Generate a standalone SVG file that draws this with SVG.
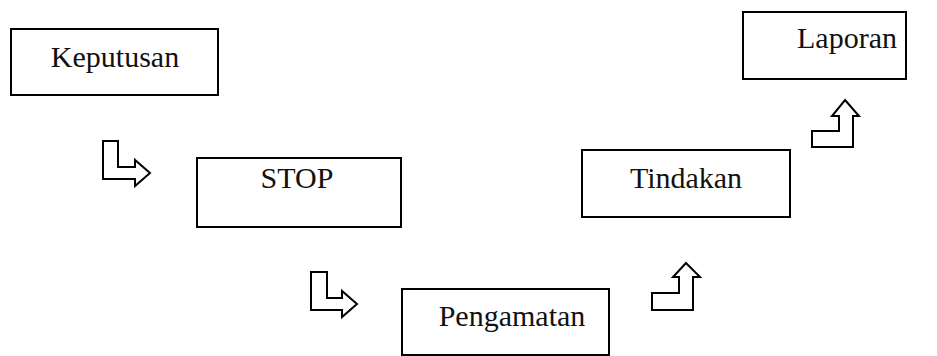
<svg xmlns="http://www.w3.org/2000/svg" width="937" height="356" viewBox="0 0 937 356">
<style>
.box{fill:#fff;stroke:#000;stroke-width:2}
.lbl{font-size:30px;fill:#111;text-anchor:middle}
.arr{fill:#fff;stroke:#000;stroke-width:2;stroke-linejoin:miter}
</style>
<rect width="937" height="356" fill="#fff"/>
<g font-family="Liberation Serif, Times New Roman, DejaVu Serif, serif">
<g id="keputusan"><rect class="box" x="11" y="29" width="207" height="66"/><text class="lbl" x="115" y="67">Keputusan</text></g>
<g id="stop"><rect class="box" x="197" y="158" width="204" height="69"/><text class="lbl" x="297" y="188">STOP</text></g>
<g id="pengamatan"><rect class="box" x="402" y="289" width="207" height="66"/><text class="lbl" x="512" y="326">Pengamatan</text></g>
<g id="tindakan"><rect class="box" x="582" y="150" width="208" height="67"/><text class="lbl" x="686" y="188">Tindakan</text></g>
<g id="laporan"><rect class="box" x="743" y="12" width="163" height="67"/><text class="lbl" x="847" y="48">Laporan</text></g>
</g>
<g id="connectors">
<path class="arr" d="M103,141 H118 V167 H135 V160 L150,173 L135,186 V179 H103 Z"/>
<path class="arr" d="M311,272 H327 V298 H342 V291 L357,304 L342,317 V310 H311 Z"/>
<path class="arr" d="M686,263 L700,277 H693 V310 H652 V293 H679 V277 H673 Z"/>
<path class="arr" d="M845,100 L859,116 H853 V147 H812 V131 H839 V116 H832 Z"/>
</g>
</svg>
